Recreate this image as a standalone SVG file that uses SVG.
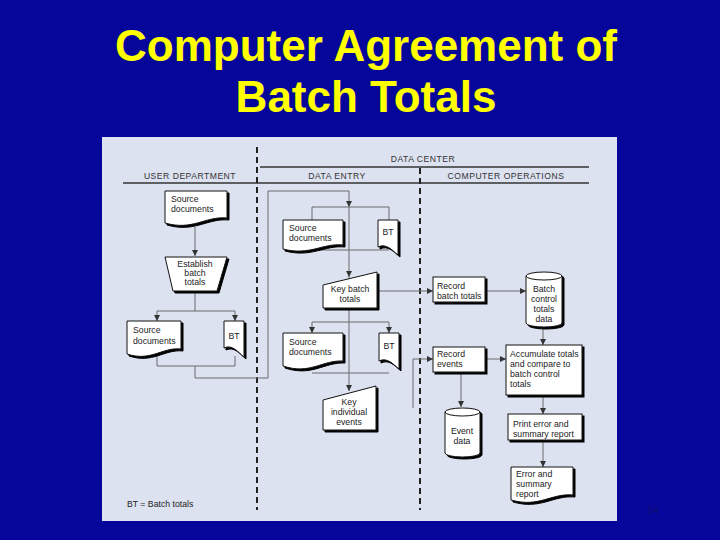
<svg xmlns="http://www.w3.org/2000/svg" width="720" height="540" viewBox="0 0 720 540">
<style>
.title{font-family:"Liberation Sans",Arial,sans-serif;font-weight:bold;font-size:44px;fill:#ffff00;text-anchor:middle}
.t{font-family:"Liberation Sans",Arial,sans-serif;font-size:8.7px;fill:#222}
.c{text-anchor:middle}
.h{font-family:"Liberation Sans",Arial,sans-serif;font-size:8.6px;fill:#333;text-anchor:middle;letter-spacing:0.5px}
.shape{fill:#fff;stroke:#111;stroke-width:1;filter:url(#sh)}
.cyl{fill:none;stroke:#111;stroke-width:1}
.ln{fill:none;stroke:#6a6a6a;stroke-width:1}
.ar{marker-end:url(#arr)}
.hd{stroke:#333;stroke-width:1.5}
.dash{stroke:#222;stroke-width:2;stroke-dasharray:6 4}
</style>
<defs>
<filter id="sh" x="-20%" y="-20%" width="140%" height="140%">
<feDropShadow dx="2" dy="2" stdDeviation="0" flood-color="#000" flood-opacity="1"/>
</filter>
<marker id="arr" markerUnits="userSpaceOnUse" markerWidth="6" markerHeight="6" refX="6" refY="3" orient="auto">
<path d="M0,0 L6,3 L0,6 z" fill="#333"/>
</marker>
</defs>
<rect width="720" height="540" fill="#06069a"/>
<text class="title" x="366" y="61">Computer Agreement of</text>
<text class="title" x="366" y="112">Batch Totals</text>
<rect x="102" y="137" width="515" height="384" fill="#dde2f0"/>

<g id="lanes">
<line class="hd" x1="260" y1="167" x2="589" y2="167"/>
<line class="hd" x1="123" y1="183" x2="589" y2="183"/>
<line class="dash" x1="257" y1="147" x2="257" y2="510"/>
<line class="dash" x1="420" y1="168" x2="420" y2="510"/>
<text class="h" x="423" y="162">DATA CENTER</text>
<text class="h" x="190" y="179">USER DEPARTMENT</text>
<text class="h" x="337" y="179">DATA ENTRY</text>
<text class="h" x="506" y="179">COMPUTER OPERATIONS</text>
<text class="t" x="127" y="507">BT = Batch totals</text>
</g>

<g id="connectors">
<line class="ln ar" x1="195" y1="227" x2="195" y2="256"/>
<line class="ln" x1="195" y1="291" x2="195" y2="311"/>
<line class="ln" x1="157" y1="311" x2="235" y2="311"/>
<line class="ln ar" x1="157" y1="311" x2="157" y2="321"/>
<line class="ln ar" x1="235" y1="311" x2="235" y2="321"/>
<polyline class="ln" points="157,354 157,366 235,366 235,356"/>
<polyline class="ln" points="195,366 195,378 268,378 268,191 349,191"/>
<line class="ln ar" x1="349" y1="191" x2="349" y2="207"/>
<line class="ln ar" x1="349" y1="207" x2="349" y2="277"/>
<line class="ln ar" x1="349" y1="277" x2="349" y2="391"/>
<line class="ln" x1="312" y1="207" x2="389" y2="207"/>
<line class="ln" x1="312" y1="207" x2="312" y2="220"/>
<line class="ln" x1="389" y1="207" x2="389" y2="220"/>
<line class="ln" x1="312" y1="250" x2="389" y2="250"/>
<line class="ln" x1="312" y1="322" x2="389" y2="322"/>
<line class="ln ar" x1="312" y1="322" x2="312" y2="333"/>
<line class="ln ar" x1="389" y1="322" x2="389" y2="333"/>
<line class="ln" x1="312" y1="373" x2="389" y2="373"/>
<line class="ln ar" x1="377" y1="291" x2="433" y2="291"/>
<polyline class="ln ar" points="413,408 413,359 433,359"/>
<line class="ln ar" x1="485" y1="291" x2="526" y2="291"/>
<line class="ln ar" x1="543" y1="327" x2="543" y2="345"/>
<line class="ln ar" x1="485" y1="359" x2="506" y2="359"/>
<line class="ln ar" x1="461" y1="372" x2="461" y2="407"/>
<line class="ln ar" x1="543" y1="395" x2="543" y2="414"/>
<line class="ln ar" x1="543" y1="440" x2="543" y2="467"/>
</g>

<g id="ud-source-documents">
<path class="shape" d="M165 191 H227 V218 C205 216 193 231 165 223 Z"/>
<text class="t" x="171" y="202">Source</text>
<text class="t" x="171" y="212">documents</text>
</g>
<g id="ud-establish-batch-totals">
<path class="shape" d="M165 257 H227 L217 291 H173 Z"/>
<text class="t c" x="195" y="267">Establish</text>
<text class="t c" x="195" y="276">batch</text>
<text class="t c" x="195" y="285">totals</text>
</g>
<g id="ud-source-documents-2">
<path class="shape" d="M127 321 H181 V349 C162 347 151 362 127 354 Z"/>
<text class="t" x="133" y="333">Source</text>
<text class="t" x="133" y="344">documents</text>
</g>
<g id="ud-bt">
<path class="shape" d="M224 321 H244 V357 C238 352 232 344 224 348 Z"/>
<text class="t c" x="234" y="339">BT</text>
</g>

<g id="de-source-documents-1">
<path class="shape" d="M283 220 H343 V245 C322 243 310 256 283 249 Z"/>
<text class="t" x="289" y="231">Source</text>
<text class="t" x="289" y="241">documents</text>
</g>
<g id="de-bt-1">
<path class="shape" d="M378 220 H398 V255 C392 250 386 243 378 247 Z"/>
<text class="t c" x="388" y="235">BT</text>
</g>
<g id="de-key-batch-totals">
<path class="shape" d="M323 285 L377 272 V308 H323 Z"/>
<text class="t c" x="350" y="292">Key batch</text>
<text class="t c" x="350" y="302">totals</text>
</g>
<g id="de-source-documents-2">
<path class="shape" d="M283 333 H343 V361 C322 360 310 375 283 366 Z"/>
<text class="t" x="289" y="345">Source</text>
<text class="t" x="289" y="355">documents</text>
</g>
<g id="de-bt-2">
<path class="shape" d="M379 333 H399 V369 C393 364 387 357 379 361 Z"/>
<text class="t c" x="389" y="349">BT</text>
</g>
<g id="de-key-individual-events">
<path class="shape" d="M323 400 L376 386 V430 H323 Z"/>
<text class="t c" x="349" y="405">Key</text>
<text class="t c" x="349" y="415">individual</text>
<text class="t c" x="349" y="425">events</text>
</g>

<g id="co-record-batch-totals">
<rect class="shape" x="433" y="277" width="52" height="25"/>
<text class="t" x="437" y="289">Record</text>
<text class="t" x="437" y="299">batch totals</text>
</g>
<g id="co-batch-control-totals-data">
<path class="shape" d="M526 276 A18 4 0 0 1 562 276 V323 A18 4 0 0 1 526 323 Z"/>
<path class="cyl" d="M526 276 A18 4 0 0 0 562 276"/>
<text class="t c" x="544" y="292">Batch</text>
<text class="t c" x="544" y="302">control</text>
<text class="t c" x="544" y="312">totals</text>
<text class="t c" x="544" y="322">data</text>
</g>
<g id="co-record-events">
<rect class="shape" x="433" y="347" width="52" height="25"/>
<text class="t" x="437" y="357">Record</text>
<text class="t" x="437" y="367">events</text>
</g>
<g id="co-accumulate">
<rect class="shape" x="506" y="345" width="76" height="50"/>
<text class="t" x="510" y="357">Accumulate totals</text>
<text class="t" x="510" y="367">and compare to</text>
<text class="t" x="510" y="377">batch control</text>
<text class="t" x="510" y="387">totals</text>
</g>
<g id="co-event-data">
<path class="shape" d="M445 412 A17.5 4 0 0 1 480 412 V453 A17.5 4 0 0 1 445 453 Z"/>
<path class="cyl" d="M445 412 A17.5 4 0 0 0 480 412"/>
<text class="t c" x="462" y="434">Event</text>
<text class="t c" x="462" y="444">data</text>
</g>
<g id="co-print-error">
<rect class="shape" x="508" y="414" width="74" height="26"/>
<text class="t" x="513" y="427">Print error and</text>
<text class="t" x="513" y="437">summary report</text>
</g>
<g id="co-error-summary-report">
<path class="shape" d="M511 467 H573 V495 C551 493 539 508 511 500 Z"/>
<text class="t" x="516" y="477">Error and</text>
<text class="t" x="516" y="487">summary</text>
<text class="t" x="516" y="497">report</text>
</g>
<text x="653" y="514" font-family="Liberation Sans, Arial, sans-serif" font-size="10" fill="#0e0e72" text-anchor="middle">54</text>
</svg>
